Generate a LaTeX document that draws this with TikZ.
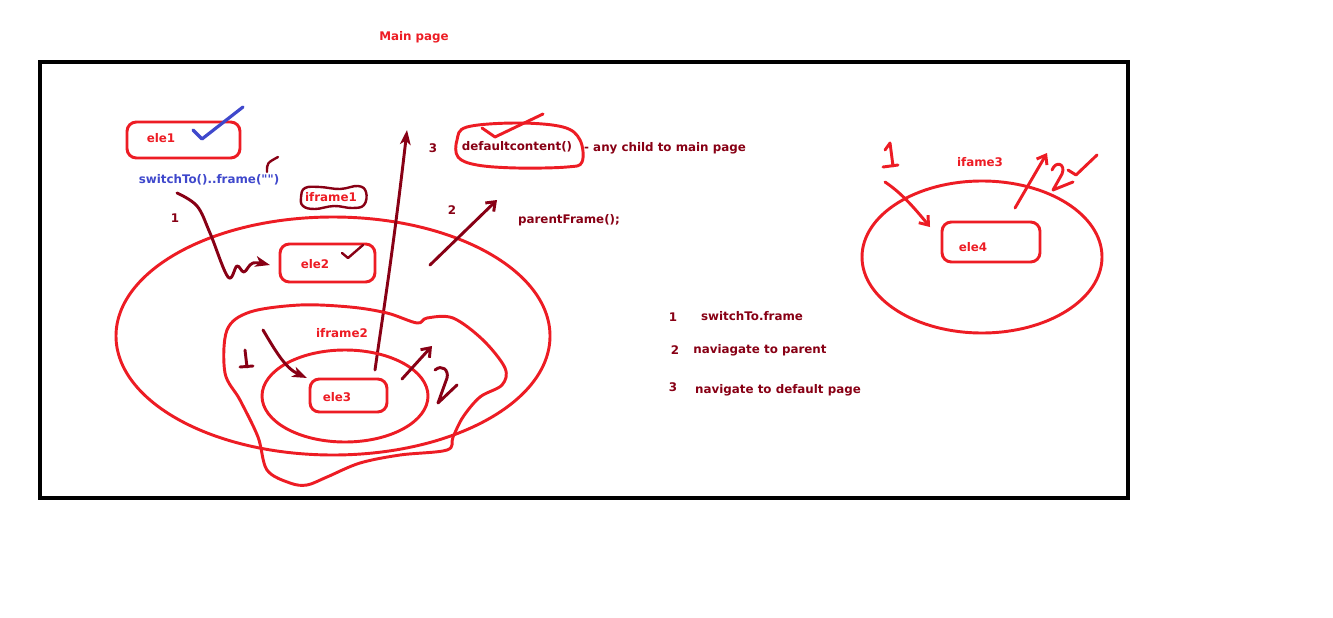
\documentclass[tikz,border=0pt]{standalone}
\usepackage{fontspec}
\setmainfont{DejaVu Sans}
\usetikzlibrary{arrows.meta}
\definecolor{pred}{HTML}{ED1C24}
\definecolor{pdark}{HTML}{880015}
\definecolor{pblue}{HTML}{3F48CC}
\begin{document}
\begin{tikzpicture}[x=0.75pt,y=-0.75pt,
  lbl/.style={font=\fontsize{8.9}{10.7}\selectfont\bfseries,inner sep=0pt},
  redtxt/.style={lbl,text=pred},
  darktxt/.style={lbl,text=pdark},
  bluetxt/.style={lbl,text=pblue},
  redpen/.style={draw=pred,line width=2.2pt,line cap=round,line join=round},
  darkpen/.style={draw=pdark,line width=2.2pt,line cap=round,line join=round},
  bluepen/.style={draw=pblue,line width=2.4pt,line cap=round,line join=round},
  elembox/.style={redpen,rounded corners=7pt},
  tip/.style={-{Stealth[length=11pt,width=8pt,inset=3pt]}},
  barb/.style={-{Straight Barb[length=6pt,width=9pt]}}]
\useasboundingbox (0,0) rectangle (1333,617);
\fill[white] (0,0) rectangle (1333,617);

% page frame
\node[redtxt] (title) at (414,37) {Main page};
\draw[line width=3.4pt] (40,62) rectangle (1128,498);

% element on the main page
\draw[elembox] (127,122) rectangle (240,158);
\node[redtxt] (ele1) at (161,138) {ele1};
\draw[bluepen] (193,130) -- (202,139) -- (243,107);

\node[bluetxt] (sw) at (209,180) {switchTo()..frame(\textquotedbl\textquotedbl)};
\draw[darkpen,line width=1.8pt] (267,172) .. controls (267,163) .. (278,157);
\node[darktxt] (n1a) at (175,218) {1};

% iframe1 region
\draw[redpen] (333,336) ellipse (217 and 119);
\node[redtxt] (if1) at (331,197) {iframe1};
\draw[darkpen,line width=1.8pt] plot[smooth cycle,tension=0.7] coordinates
  {(301,197) (305,188) (320,187) (340,189) (358,186) (366,192) (364,205) (352,208) (334,206) (315,209) (303,206)};
\draw[elembox] (280,244) rectangle (375,282);
\node[redtxt] (ele2) at (315,264) {ele2};
\draw[darkpen,line width=1.8pt] (342,253) -- (348,258) -- (363,245);

% switch into iframe1
\coordinate (s1) at (177,193);
\coordinate (s1e) at (270,265);
\draw[darkpen,tip] plot[smooth,tension=0.6] coordinates
  {(s1) (197,206) (210,233) (228,277) (237,266) (244,272) (253,263) (s1e)};

% back to default content
\coordinate (d3s) at (375,370);
\coordinate (d3e) at (407,130);
\draw[darkpen,tip] (d3s) .. controls (382,320) and (392,260) .. (d3e);
\node[darktxt] (n3) at (433,148) {3};
\draw[redpen] plot[smooth cycle,tension=0.6] coordinates
  {(457,140) (467,127) (517,123) (563,127) (580,140) (582,162) (567,167) (517,168) (477,165) (458,157)};
\node[darktxt] (dc) at (517,147) {defaultcontent()};
\draw[redpen] (482,128) -- (495,137) -- (543,114);
\node[darktxt] (dcnote) at (665,148) {- any child to main page};

% to parent frame
\coordinate (p2s) at (430,265);
\coordinate (p2e) at (497,200);
\draw[darkpen,barb] (p2s) -- (p2e);
\node[darktxt] (n2) at (452,210) {2};
\node[darktxt] (pf) at (569,220) {parentFrame();};

% iframe2 region
\draw[redpen] plot[smooth cycle,tension=0.55] coordinates
  {(227,330) (250,312) (300,305) (350,307) (387,313) (417,323) (427,318) (453,318)
   (483,340) (505,368) (502,385) (480,397) (463,417) (453,437) (447,450)
   (400,455) (360,463) (327,477) (307,485) (290,483) (267,470) (258,437) (240,400) (225,373)};
\node[redtxt] (if2) at (342,333) {iframe2};
\draw[redpen] (345,396) ellipse (83 and 46);
\draw[elembox] (310,379) rectangle (387,412);
\node[redtxt] (ele3) at (337,397) {ele3};

\coordinate (i1s) at (263,330);
\coordinate (i1e) at (307,378);
\draw[darkpen,tip] (i1s) .. controls (275,350) and (285,368) .. (i1e);
\draw[darkpen] (245,350) -- (247,367) (240,367) -- (253,366);
\coordinate (i2s) at (402,379);
\coordinate (i2e) at (432,346);
\draw[darkpen,barb] (i2s) -- (i2e);
\draw[darkpen] (435,370) .. controls (442,364) and (449,370) .. (447,378)
  -- (438,403) -- (457,385);

% legend
\node[darktxt] (l1) at (673,317) {1};
\node[darktxt] (l1t) at (752,316) {switchTo.frame};
\node[darktxt] (l2) at (675,350) {2};
\node[darktxt] (l2t) at (760,350) {naviagate to parent};
\node[darktxt] (l3) at (673,387) {3};
\node[darktxt] (l3t) at (778,390) {navigate to default page};

% iframe3 region
\draw[redpen] (982,257) ellipse (120 and 76);
\node[redtxt] (if3) at (980,162) {ifame3};
\draw[elembox] (942,222) rectangle (1040,262);
\node[redtxt] (ele4) at (973,247) {ele4};
\draw[redpen] (885,150) -- (890,143) -- (893,166) (883,167) -- (898,165);
\coordinate (r1s) at (885,182);
\coordinate (r1e) at (930,227);
\draw[redpen,barb] (r1s) .. controls (900,192) and (912,205) .. (r1e);
\coordinate (r2s) at (1015,208);
\coordinate (r2e) at (1047,153);
\draw[redpen,barb] (r2s) -- (r2e);
\draw[redpen] (1052,170) .. controls (1056,160) and (1066,164) .. (1062,174)
  -- (1053,190) -- (1073,182);
\draw[redpen] (1068,170) -- (1076,175) -- (1097,155);
\end{tikzpicture}
\end{document}
